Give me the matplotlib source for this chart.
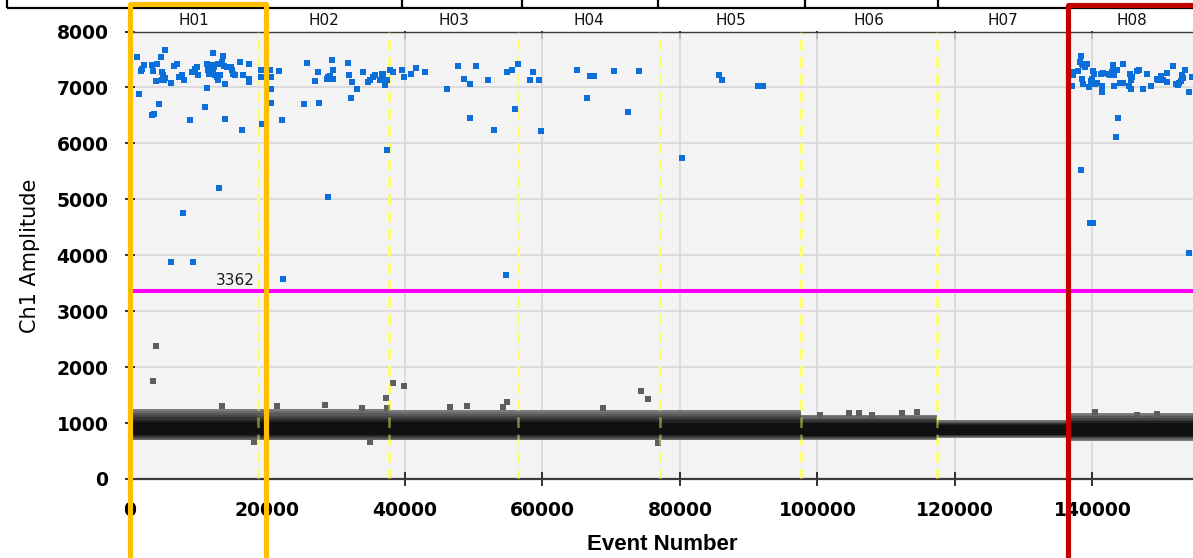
import matplotlib
matplotlib.use("Agg")
import matplotlib.pyplot as plt
from matplotlib.patches import Rectangle
from matplotlib.lines import Line2D
from matplotlib.colors import to_rgb

# ---- data -------------------------------------------------------------
wells = ["H01", "H02", "H03", "H04", "H05", "H06", "H07", "H08"]
well_edges = [0, 18600, 37700, 56400, 77100, 97600, 117400, 136400, 155100]

threshold = 3362

# positive droplets (event number, Ch1 amplitude)
pos_x = [
    975, 1353, 1600, 1790, 1990, 3160, 3300, 3160, 3535, 3970, 4220, 4465, 3780,
    4700, 4845, 5090, 4610, 4990, 5090, 5965, 6445, 6790, 7130, 7605, 7900, 8770,
    9060, 9455, 9700, 9935, 10910, 11155, 11155, 11300, 11390, 11490, 11640, 11780,
    11970, 12120, 12260, 12360, 12610, 12750, 12850, 13090, 13340, 13570, 13720,
    14060, 12030, 13820, 13820, 14690, 14880, 15025, 15270, 16000, 16250, 16480,
    17310, 17310, 17310, 19055, 19055, 19155, 12945, 7665, 5965, 9205,
    # H02
    20360, 20465, 20465, 20465, 21670, 22065, 25310, 25790, 26910, 27390, 27540,
    28610, 28840, 29090, 29420, 29480, 29570, 31750, 31900, 32250, 32100, 33060,
    33850, 34660, 34910, 35390, 35640, 36610, 36750, 36360, 36840, 37340, 37090,
    37820, 38210, 37340, 28840, 22300,
    # H03
    39520, 39850, 40920, 41560, 42860, 46150, 47660, 48540, 49410, 49410, 50330,
    52030, 52940, 54880, 55560, 56000, 56440, 54690,
    # H04
    58180, 58620, 59490, 59740, 64970, 66470, 66910, 67490, 70440, 72390, 74080,
    # H05
    80240, 85670, 86110, 91390, 92030,
    # H08
    136970, 137110, 136970, 137930, 138320, 138180, 138420, 138660, 138900, 139150,
    138420, 138660, 139490, 139730, 139880, 140110, 140260, 140360, 140600, 141190,
    141480, 141420, 141420, 142290, 142540, 142790, 142930, 143020, 143270, 143130,
    143520, 142930, 144480, 143170, 144000, 144390, 143750, 143420, 145450, 145700,
    145550, 145350, 145600, 146430, 146760, 147300, 147970, 148460, 149330, 149570,
    149920, 150300, 150790, 150790, 151750, 152140, 152480, 152620, 152830, 152970,
    153120, 153450, 154080, 154430, 138320, 140020, 139630, 154080,
]
pos_y = [
    7541, 6888, 7291, 7334, 7393, 7405, 7291, 6500, 6518, 7423, 6709, 7541, 7107,
    7273, 7214, 7173, 7137, 7125, 7673, 7077, 7375, 7423, 7184, 7214, 7125, 6411,
    7273, 7334, 7362, 7214, 6648, 6995, 7423, 7362, 7304, 7245, 7273, 7334,
    7393, 7273, 7362, 7214, 7184, 7125, 7423, 7214, 7452, 7559, 7375,
    7362, 7620, 7054, 6429, 7362, 7304, 7245, 7214, 7452, 6245, 7214,
    7423, 7155, 7095, 7316, 7184, 6352, 5202, 4763, 3880, 3880,
    # H02
    7316, 7184, 6964, 6727, 7291, 6411, 6709, 7434, 7110, 7273, 6727,
    7155, 7184, 7196, 7482, 7316, 7155, 7434, 7214, 7095, 6809, 6964,
    7273, 7095, 7125, 7184, 7214, 7245, 7232, 7125, 7125, 7125, 7036,
    7304, 7273, 5875, 5041, 3584,
    # H03
    7316, 7184, 7245, 7345, 7268, 6970, 7375, 7155, 7054, 6459, 7375,
    7130, 6245, 7268, 7316, 6620, 7423, 3638,
    # H04
    7130, 7268, 7130, 6220, 7316, 6809, 7209, 7209, 7291, 6566, 7291,
    # H05
    5738, 7214, 7130, 7023, 7023,
    # H08
    7273, 7214, 7023, 7291, 7559, 7452, 7423, 7393, 7362, 7411,
    7155, 7054, 7005, 7112, 7155, 7291, 7245, 7066, 7077, 7245,
    7263, 7023, 6916, 7245, 7214, 7273, 7334, 7362, 7304, 7214,
    7316, 7393, 7423, 7023, 7077, 7077, 6459, 6113, 7245, 7184,
    7125, 7023, 6964, 7291, 7316, 6964, 7232, 7023, 7155, 7125,
    7196, 7137, 7095, 7263, 7375, 7066, 7036, 7084, 7112, 7214,
    7173, 7316, 6916, 7184, 5518, 4577, 4577, 4041,
]

# negative droplets lying outside the main cluster
neg_x = [3740, 3300, 38210, 37190, 39810, 74280, 75390, 37340, 46540, 48970,
         54880, 54210, 68840, 13340, 21340, 28360, 33700, 18080, 34910, 76840,
         100360, 104620, 106080, 107880, 112240, 114520, 140360, 146420, 149330]
neg_y = [2375, 1755, 1709, 1452, 1661, 1571, 1429, 1273, 1286, 1304,
         1380, 1280, 1262, 1309, 1309, 1321, 1273, 666, 666, 637,
         1143, 1184, 1184, 1143, 1173, 1202, 1202, 1143, 1161]

# negative cluster per well: outer (fringe) and inner (core) amplitude range
fringe_lo = [690, 690, 690, 690, 690, 700, 740, 680]
fringe_hi = [1260, 1250, 1240, 1235, 1225, 1150, 1060, 1180]
core_lo = [780, 780, 780, 780, 780, 770, 795, 775]
core_hi = [1020, 1020, 1015, 1015, 1010, 995, 960, 1005]

# ---- figure -----------------------------------------------------------
W, H = 1193, 558
fig = plt.figure(figsize=(W / 100, H / 100), dpi=100)
fig.patch.set_facecolor("white")

ax_left, ax_right, ax_top, ax_bottom = 130, 1193, 31.5, 479
ax = fig.add_axes([ax_left / W, 1 - ax_bottom / H,
                   (ax_right - ax_left) / W, (ax_bottom - ax_top) / H])
ax.set_facecolor("#f3f3f3")
ax.set_xlim(0, 154620)
ax.set_ylim(0, 8000)

ax.set_xticks(range(0, 160000, 20000))
ax.set_yticks(range(0, 9000, 1000))
ax.grid(True, color="#d8d8d8", linewidth=1.2, zorder=0)
ax.set_axisbelow(True)

ax.tick_params(axis="x", direction="inout", length=10, width=1.3,
               pad=11, colors="#222222")
ax.tick_params(axis="y", direction="inout", length=7, width=1.3,
               pad=12, colors="#222222")
for lab in ax.get_xticklabels() + ax.get_yticklabels():
    lab.set_fontfamily("DejaVu Sans")
    lab.set_fontweight("bold")
    lab.set_fontsize(13.5)
    lab.set_color("black")

for side in ("left", "right"):
    ax.spines[side].set_visible(False)
ax.spines["bottom"].set_color("#3a3a3a")
ax.spines["bottom"].set_linewidth(1.6)
ax.spines["top"].set_color("#3a3a3a")
ax.spines["top"].set_linewidth(1.0)

top_ax = ax.secondary_xaxis("top")
top_ax.set_xticks(range(0, 160000, 20000))
top_ax.tick_params(direction="in", length=6, width=1.3, labeltop=False,
                   colors="#222222")
top_ax.spines["top"].set_visible(False)

# negative cluster: shaded layers from the light outer fringe to the dark core
n_layers = 7
c_out, c_in = to_rgb("#7c7c7c"), to_rgb("#101010")
for i in range(len(wells)):
    xs = [well_edges[i], well_edges[i + 1]]
    for k in range(n_layers):
        t = k / (n_layers - 1)
        lo = fringe_lo[i] + (core_lo[i] - fringe_lo[i]) * t
        hi = fringe_hi[i] + (core_hi[i] - fringe_hi[i]) * t
        col = tuple(a + (b - a) * t for a, b in zip(c_out, c_in))
        ax.fill_between(xs, lo, hi, color=col, linewidth=0, zorder=2)

ax.scatter(neg_x, neg_y, marker="s", s=13, color="#5e5e5e",
           linewidths=0, zorder=3)
ax.scatter(pos_x, pos_y, marker="s", s=14, color="#0a6fd8",
           linewidths=0, zorder=4)

# well boundaries: bright on the background, dimmed where they cross the cluster
for xb in well_edges[1:-1]:
    ax.axvline(xb, color="#ffff70", linewidth=1.9, linestyle=(0, (4, 2.5)),
               zorder=1.5)
    ax.axvline(xb, color="#ffff60", linewidth=1.9, linestyle=(0, (4, 2.5)),
               alpha=0.45, zorder=3.5)

# threshold
ax.axhline(threshold, color="#ff00ff", linewidth=2.9, zorder=5)
ax.text(18200, threshold + 55, str(threshold), ha="right", va="bottom",
        fontsize=11, family="DejaVu Sans", color="#1a1a1a", zorder=6)

# well names above the plot
for i, name in enumerate(wells):
    xc = (well_edges[i] + well_edges[i + 1]) / 2
    ax.text(xc, 1 + 11.5 / (ax_bottom - ax_top), name,
            transform=ax.get_xaxis_transform(), ha="center", va="center",
            fontsize=11, family="DejaVu Sans", color="#111111", clip_on=False)

# axis titles
fig.text(30 / W, 1 - 256 / H, "Ch1 Amplitude", rotation=90, ha="center",
         va="center", fontsize=15, family="DejaVu Sans", color="black")
fig.text(662 / W, 1 - 545 / H, "Event Number", ha="center", va="center",
         fontsize=16, family="Liberation Sans", weight="bold", color="black")

# frame lines of the table above the plot
def px_line(x0, y0, x1, y1, color, lw):
    fig.add_artist(Line2D([x0 / W, x1 / W], [1 - y0 / H, 1 - y1 / H],
                          color=color, linewidth=lw, transform=fig.transFigure,
                          solid_capstyle="butt"))

px_line(7, 8.3, W, 8.3, "black", 1.6)
for xv in (7, 402, 522, 658, 805, 938):
    px_line(xv, 0, xv, 8.3, "black", 1.6)

# highlight boxes
def px_rect(x0, y0, x1, y1, color, lw):
    fig.add_artist(Rectangle((x0 / W, 1 - y1 / H), (x1 - x0) / W,
                             (y1 - y0) / H, transform=fig.transFigure,
                             fill=False, edgecolor=color, linewidth=lw,
                             joinstyle="round", zorder=10))

px_rect(130, 4.3, 265.5, 600, "#ffc000", 3.7)
px_rect(1067.5, 4.5, 1260, 600, "#c00000", 3.7)

fig.savefig("out.png", dpi=100, facecolor="white")
